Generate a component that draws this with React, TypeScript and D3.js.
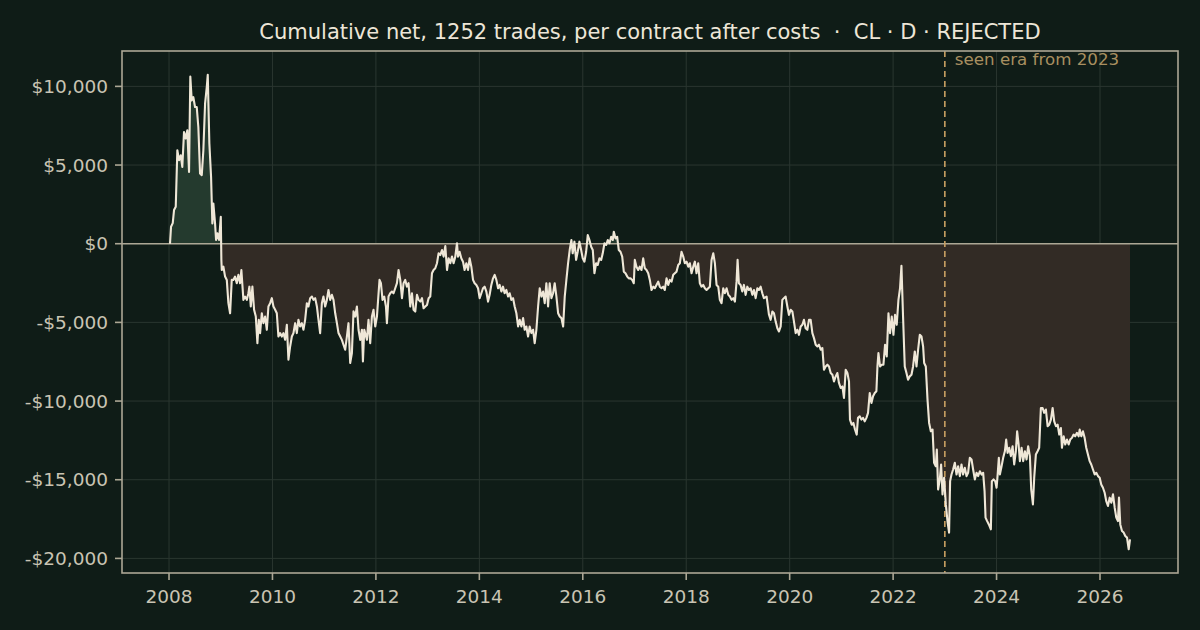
import React from 'react';
import * as d3 from 'd3';

// cumulative net P&L per contract: [decimal year, dollars]
const equityCurve: [number, number][] = [
  [2008.019, 0], [2008.039, 1080], [2008.072, 1310], [2008.097, 2140], [2008.130, 2350],
  [2008.161, 5940], [2008.194, 5310], [2008.226, 5620], [2008.257, 4880], [2008.290, 7100],
  [2008.323, 6680], [2008.354, 7210], [2008.387, 4560], [2008.412, 10630], [2008.439, 9110],
  [2008.470, 9320], [2008.503, 8690], [2008.536, 8690], [2008.567, 7420], [2008.600, 4460],
  [2008.633, 4360], [2008.664, 5940], [2008.697, 8900], [2008.730, 9950], [2008.749, 10740],
  [2008.780, 6370], [2008.813, 4250], [2008.838, 1290], [2008.857, 2560], [2008.890, 1290],
  [2008.910, 235], [2008.935, 660], [2008.968, 235], [2009.001, 1710], [2009.012, -1030],
  [2009.020, -1670], [2009.051, -1460], [2009.084, -2090], [2009.117, -2300], [2009.148, -3780],
  [2009.181, -4420], [2009.213, -2300], [2009.244, -2300], [2009.277, -2090], [2009.310, -2510],
  [2009.341, -1980], [2009.374, -2510], [2009.399, -1670], [2009.438, -3570], [2009.471, -3360],
  [2009.504, -3570], [2009.535, -3150], [2009.554, -2730], [2009.581, -3990], [2009.612, -2730],
  [2009.645, -4200], [2009.678, -4630], [2009.709, -6320], [2009.736, -4840], [2009.761, -5680],
  [2009.794, -4420], [2009.825, -5050], [2009.858, -4630], [2009.891, -5470], [2009.922, -3990],
  [2009.955, -3780], [2009.988, -3460], [2010.019, -3990], [2010.052, -4200], [2010.084, -4420],
  [2010.115, -5900], [2010.148, -5680], [2010.181, -5900], [2010.212, -5680], [2010.245, -6110],
  [2010.278, -5150], [2010.309, -7370], [2010.342, -6530], [2010.375, -5900], [2010.406, -5680],
  [2010.439, -5050], [2010.471, -5680], [2010.502, -4840], [2010.535, -5260], [2010.568, -5050],
  [2010.599, -5470], [2010.632, -4840], [2010.665, -3780], [2010.696, -3990], [2010.729, -3460],
  [2010.762, -3360], [2010.793, -3570], [2010.826, -3460], [2010.859, -3990], [2010.890, -4840],
  [2010.922, -5680], [2010.955, -3780], [2010.986, -3360], [2011.019, -3990], [2011.052, -3570],
  [2011.083, -2940], [2011.116, -3570], [2011.149, -3250], [2011.180, -3570], [2011.213, -4420],
  [2011.246, -5050], [2011.277, -5680], [2011.310, -5900], [2011.342, -6110], [2011.373, -6420],
  [2011.406, -6740], [2011.439, -5900], [2011.470, -5050], [2011.503, -7580], [2011.536, -6950],
  [2011.567, -4300], [2011.600, -4630], [2011.633, -3990], [2011.664, -5470], [2011.697, -6110],
  [2011.730, -5470], [2011.749, -7480], [2011.775, -5470], [2011.826, -6110], [2011.857, -4840],
  [2011.890, -6320], [2011.923, -4630], [2011.954, -4200], [2011.987, -5260], [2012.020, -4630],
  [2012.070, -2300], [2012.097, -2510], [2012.128, -3570], [2012.161, -3360], [2012.194, -3990],
  [2012.213, -5050], [2012.244, -3360], [2012.277, -3150], [2012.310, -3040], [2012.341, -3150],
  [2012.374, -2830], [2012.407, -2510], [2012.438, -1670], [2012.471, -2300], [2012.504, -3460],
  [2012.535, -2510], [2012.567, -2300], [2012.600, -2730], [2012.631, -2510], [2012.664, -3990],
  [2012.697, -3150], [2012.728, -4200], [2012.761, -4310], [2012.794, -3250], [2012.825, -3570],
  [2012.858, -3680], [2012.891, -3460], [2012.922, -4100], [2012.955, -3990], [2012.988, -3890],
  [2013.019, -3460], [2013.051, -3360], [2013.084, -1880], [2013.115, -1670], [2013.148, -1560],
  [2013.181, -1240], [2013.212, -610], [2013.245, -720], [2013.278, -400], [2013.309, -820],
  [2013.342, -150], [2013.375, -1670], [2013.406, -930], [2013.438, -1240], [2013.471, -820],
  [2013.502, -1240], [2013.535, -820], [2013.568, 30], [2013.587, -820], [2013.618, -510],
  [2013.651, -930], [2013.684, -1140], [2013.715, -1670], [2013.748, -1240], [2013.781, -1670],
  [2013.812, -930], [2013.845, -1460], [2013.878, -2300], [2013.909, -2510], [2013.942, -2620],
  [2013.975, -2830], [2014.006, -3460], [2014.039, -3150], [2014.071, -2830], [2014.102, -2730],
  [2014.135, -3040], [2014.168, -3680], [2014.199, -3250], [2014.232, -2620], [2014.265, -2200],
  [2014.296, -1980], [2014.329, -2300], [2014.362, -2830], [2014.393, -2620], [2014.426, -3040],
  [2014.458, -2730], [2014.489, -3150], [2014.522, -2940], [2014.555, -3360], [2014.586, -3150],
  [2014.619, -3570], [2014.652, -3460], [2014.683, -3990], [2014.716, -4420], [2014.749, -5260],
  [2014.780, -4840], [2014.813, -5260], [2014.846, -4730], [2014.877, -5470], [2014.909, -5260],
  [2014.942, -5900], [2014.973, -5260], [2015.006, -5680], [2015.039, -5470], [2015.070, -6320],
  [2015.103, -5470], [2015.136, -3990], [2015.167, -2830], [2015.200, -3360], [2015.233, -3040],
  [2015.264, -3780], [2015.296, -2510], [2015.329, -3990], [2015.360, -2510], [2015.393, -3460],
  [2015.426, -3150], [2015.457, -2510], [2015.490, -3360], [2015.523, -4420], [2015.554, -4630],
  [2015.587, -4730], [2015.620, -5260], [2015.651, -3360], [2015.683, -2300], [2015.716, -1240],
  [2015.747, -400], [2015.780, 235], [2015.805, -610], [2015.838, 130], [2015.871, -1030],
  [2015.902, -510], [2015.935, 130], [2015.968, -400], [2015.999, -930], [2016.032, -1140],
  [2016.065, -510], [2016.096, 550], [2016.129, 235], [2016.162, -190], [2016.193, -400],
  [2016.225, -1880], [2016.258, -1240], [2016.289, -1350], [2016.322, -930], [2016.355, -1030],
  [2016.386, -610], [2016.419, 30], [2016.452, -80], [2016.483, 235], [2016.516, 30],
  [2016.549, 440], [2016.580, 235], [2016.600, 760], [2016.632, 340], [2016.665, 440],
  [2016.696, -400], [2016.729, -510], [2016.762, -820], [2016.793, -1780], [2016.826, -1880],
  [2016.859, -2090], [2016.890, -2200], [2016.922, -2200], [2016.955, -2300], [2016.986, -2510],
  [2017.006, -1030], [2017.038, -1460], [2017.071, -1670], [2017.102, -1460], [2017.135, -1670],
  [2017.168, -930], [2017.199, -1560], [2017.232, -1670], [2017.265, -1880], [2017.296, -2300],
  [2017.329, -2940], [2017.362, -2730], [2017.393, -2830], [2017.425, -2620], [2017.458, -2410],
  [2017.489, -2730], [2017.522, -2830], [2017.555, -2730], [2017.586, -2940], [2017.619, -2200],
  [2017.652, -2620], [2017.683, -2300], [2017.716, -2410], [2017.749, -1980], [2017.780, -1880],
  [2017.812, -1780], [2017.845, -1350], [2017.876, -1240], [2017.909, -510], [2017.942, -820],
  [2017.973, -1240], [2018.006, -1140], [2018.039, -1460], [2018.070, -1240], [2018.103, -1880],
  [2018.136, -1460], [2018.167, -1140], [2018.199, -1880], [2018.232, -1240], [2018.263, -2510],
  [2018.296, -2730], [2018.329, -2620], [2018.360, -2830], [2018.393, -2940], [2018.426, -2830],
  [2018.457, -2730], [2018.490, -1030], [2018.523, -610], [2018.554, -1240], [2018.586, -2620],
  [2018.619, -2730], [2018.650, -3570], [2018.683, -3780], [2018.716, -2830], [2018.747, -3150],
  [2018.780, -2830], [2018.813, -3250], [2018.844, -3360], [2018.877, -3570], [2018.910, -3460],
  [2018.941, -3680], [2018.973, -2410], [2018.993, -1030], [2019.018, -2510], [2019.051, -2620],
  [2019.084, -3040], [2019.115, -2620], [2019.148, -3250], [2019.181, -2730], [2019.212, -2940],
  [2019.245, -2830], [2019.278, -3250], [2019.309, -2940], [2019.342, -3460], [2019.375, -2830],
  [2019.406, -2940], [2019.439, -2730], [2019.471, -3150], [2019.502, -3460], [2019.554, -3360],
  [2019.599, -4500], [2019.632, -4840], [2019.665, -4310], [2019.696, -4420], [2019.729, -4950],
  [2019.762, -5370], [2019.793, -5580], [2019.826, -5260], [2019.858, -3570], [2019.889, -3460],
  [2019.922, -3360], [2019.955, -3990], [2019.986, -4520], [2020.019, -4200], [2020.052, -4310],
  [2020.083, -4950], [2020.116, -5680], [2020.149, -5470], [2020.180, -5790], [2020.213, -5260],
  [2020.245, -5150], [2020.276, -4840], [2020.309, -5370], [2020.342, -5470], [2020.373, -4840],
  [2020.406, -4840], [2020.439, -5680], [2020.470, -6000], [2020.503, -6420], [2020.536, -6530],
  [2020.567, -6420], [2020.600, -6740], [2020.632, -6630], [2020.663, -8010], [2020.696, -7800],
  [2020.729, -7690], [2020.760, -7800], [2020.793, -8220], [2020.826, -8330], [2020.857, -8750],
  [2020.890, -8430], [2020.922, -8220], [2020.953, -8850], [2020.986, -9170], [2021.019, -9070],
  [2021.050, -9800], [2021.083, -8010], [2021.116, -8220], [2021.147, -8750], [2021.166, -11180],
  [2021.199, -11500], [2021.232, -11390], [2021.263, -11810], [2021.296, -12130], [2021.321, -11070],
  [2021.354, -10970], [2021.387, -11180], [2021.418, -11070], [2021.451, -11290], [2021.484, -11070],
  [2021.515, -10750], [2021.548, -9490], [2021.581, -10120], [2021.612, -9700], [2021.645, -9490],
  [2021.677, -9380], [2021.697, -7800], [2021.716, -6950], [2021.747, -7800], [2021.780, -7690],
  [2021.813, -7690], [2021.844, -6420], [2021.877, -7160], [2021.910, -4420], [2021.941, -5680],
  [2021.974, -4630], [2022.006, -5790], [2022.037, -4520], [2022.070, -5150], [2022.103, -3570],
  [2022.134, -2830], [2022.161, -1410], [2022.192, -4630], [2022.225, -7800], [2022.258, -8220],
  [2022.289, -8640], [2022.322, -8430], [2022.355, -8330], [2022.386, -7800], [2022.419, -6850],
  [2022.452, -7800], [2022.483, -6740], [2022.516, -5790], [2022.549, -5900], [2022.580, -6530],
  [2022.600, -7580], [2022.632, -7800], [2022.665, -9910], [2022.696, -11390], [2022.729, -11920],
  [2022.762, -11810], [2022.792, -13920], [2022.825, -14140], [2022.845, -13080], [2022.870, -15620],
  [2022.903, -14980], [2022.928, -14030], [2022.955, -15930], [2022.986, -14870], [2023.019, -16570],
  [2023.051, -17630], [2023.082, -18360], [2023.102, -15090], [2023.129, -14670], [2023.160, -14350],
  [2023.193, -13920], [2023.226, -14670], [2023.257, -14140], [2023.290, -14770], [2023.322, -14030],
  [2023.353, -14670], [2023.386, -14240], [2023.419, -14770], [2023.450, -14560], [2023.483, -13610],
  [2023.516, -13710], [2023.547, -14350], [2023.580, -14980], [2023.613, -14560], [2023.644, -14770],
  [2023.677, -14460], [2023.710, -14670], [2023.741, -14560], [2023.768, -15720], [2023.787, -17410],
  [2023.818, -17630], [2023.851, -17840], [2023.890, -18150], [2023.909, -15090], [2023.942, -14980],
  [2023.973, -15090], [2024.000, -15510], [2024.019, -14770], [2024.044, -13610], [2024.064, -14670],
  [2024.097, -14140], [2024.128, -13610], [2024.161, -13190], [2024.186, -12450], [2024.213, -13290],
  [2024.244, -12970], [2024.277, -13500], [2024.310, -12870], [2024.341, -14030], [2024.373, -13190],
  [2024.398, -11920], [2024.426, -12760], [2024.451, -13820], [2024.484, -12970], [2024.515, -13820],
  [2024.548, -13190], [2024.580, -13710], [2024.611, -12870], [2024.644, -13500], [2024.670, -15620],
  [2024.703, -16570], [2024.728, -14870], [2024.760, -13400], [2024.793, -13190], [2024.824, -12970],
  [2024.857, -10440], [2024.890, -10440], [2024.921, -10750], [2024.954, -10540], [2024.987, -11600],
  [2025.018, -11500], [2025.051, -11180], [2025.084, -10440], [2025.115, -11290], [2025.148, -11600],
  [2025.181, -11500], [2025.212, -12130], [2025.244, -11710], [2025.264, -12970], [2025.297, -12240],
  [2025.328, -12760], [2025.361, -12450], [2025.394, -12760], [2025.424, -12450], [2025.457, -12340],
  [2025.490, -12130], [2025.521, -12240], [2025.554, -12020], [2025.587, -12240], [2025.607, -11810],
  [2025.638, -12240], [2025.670, -11920], [2025.703, -12340], [2025.734, -12970], [2025.767, -13400],
  [2025.800, -13820], [2025.831, -14030], [2025.864, -14350], [2025.897, -14670], [2025.928, -14560],
  [2025.961, -14770], [2025.994, -14870], [2026.024, -15300], [2026.057, -15510], [2026.090, -15830],
  [2026.121, -16360], [2026.154, -16670], [2026.187, -16140], [2026.218, -16460], [2026.251, -15930],
  [2026.284, -16780], [2026.315, -17410], [2026.347, -17630], [2026.367, -16140], [2026.392, -17840],
  [2026.425, -18260], [2026.458, -18360], [2026.489, -18580], [2026.522, -18680], [2026.555, -19420],
  [2026.580, -18790],
];

const xTickYears = [2008, 2010, 2012, 2014, 2016, 2018, 2020, 2022, 2024, 2026];
const yTickValues = [10000, 5000, 0, -5000, -10000, -15000, -20000];
const seenEraStart = 2023;
const chartTitle = 'Cumulative net, 1252 trades, per contract after costs  \u00b7  CL \u00b7 D \u00b7 REJECTED';
const seenEraLabel = 'seen era from 2023';

const W = 1200;
const H = 630;
const margin = { top: 51, right: 22, bottom: 57, left: 122 };
const FONT = '"DejaVu Sans", Verdana, sans-serif';

const C = {
  bg: '#0f1c17',
  frame: '#aca795',
  grid: '#2a3630',
  line: '#efe7d7',
  posFill: '#243a2e',
  negFill: '#322b25',
  tickText: '#c9c4b3',
  title: '#ede6d7',
  era: '#c9a063',
  eraText: '#a88f60',
};

const fmtDollar = (v: number) => (v < 0 ? '-$' : '$') + d3.format(',')(Math.abs(v));

export default function App() {
  const iw = W - margin.left - margin.right;
  const ih = H - margin.top - margin.bottom;

  const xExt = d3.extent(equityCurve, d => d[0]) as [number, number];
  const yExt = d3.extent(equityCurve, d => d[1]) as [number, number];
  const xPad = (xExt[1] - xExt[0]) * 0.05;
  const yPad = (yExt[1] - yExt[0]) * 0.05;

  const x = d3.scaleLinear().domain([xExt[0] - xPad, xExt[1] + xPad]).range([0, iw]);
  const y = d3.scaleLinear().domain([yExt[0] - yPad, yExt[1] + yPad]).range([ih, 0]);

  const line = d3.line<[number, number]>().x(d => x(d[0])).y(d => y(d[1]));
  const area = d3.area<[number, number]>().x(d => x(d[0])).y0(y(0)).y1(d => y(d[1]));
  const areaPath = area(equityCurve) || '';
  const y0 = y(0);

  return (
    <div style={{ position: 'fixed', left: 0, top: 0 }}>
      <svg width={W} height={H} style={{ display: 'block', background: C.bg }} fontFamily={FONT}>
        <defs>
          <clipPath id="above">
            <rect x={0} y={0} width={iw} height={y0} />
          </clipPath>
          <clipPath id="below">
            <rect x={0} y={y0} width={iw} height={ih - y0} />
          </clipPath>
          <clipPath id="plot">
            <rect x={0} y={0} width={iw} height={ih} />
          </clipPath>
        </defs>
        <rect width={W} height={H} fill={C.bg} />
        <text x={margin.left + iw / 2} y={38.5} textAnchor="middle" fill={C.title} fontSize={21}
          style={{ whiteSpace: 'pre' }}>
          {chartTitle}
        </text>
        <g transform={`translate(${margin.left},${margin.top})`}>
          {/* grid */}
          {xTickYears.map(t => (
            <line key={'gx' + t} x1={x(t)} x2={x(t)} y1={0} y2={ih} stroke={C.grid} strokeWidth={1} />
          ))}
          {yTickValues.map(t => (
            <line key={'gy' + t} x1={0} x2={iw} y1={y(t)} y2={y(t)} stroke={C.grid} strokeWidth={1} />
          ))}
          {/* fills */}
          <path d={areaPath} fill={C.posFill} clipPath="url(#above)" />
          <path d={areaPath} fill={C.negFill} clipPath="url(#below)" />
          {/* zero line */}
          <line x1={0} x2={iw} y1={y0} y2={y0} stroke={C.frame} strokeWidth={1.6} />
          {/* seen era marker */}
          <line x1={x(seenEraStart)} x2={x(seenEraStart)} y1={0} y2={ih} stroke={C.era}
            strokeWidth={1.6} strokeDasharray="6,4" />
          <text x={x(seenEraStart) + 10} y={13.5} fill={C.eraText} fontSize={16.7}>{seenEraLabel}</text>
          {/* curve */}
          <path d={line(equityCurve) || ''} fill="none" stroke={C.line} strokeWidth={2.1}
            strokeLinejoin="round" clipPath="url(#plot)" />
          {/* frame */}
          <rect x={0} y={0} width={iw} height={ih} fill="none" stroke={C.frame} strokeWidth={1.6} />
          {/* x axis */}
          {xTickYears.map(t => (
            <g key={'xt' + t} transform={`translate(${x(t)},${ih})`}>
              <line y1={0} y2={7} stroke={C.frame} strokeWidth={1.6} />
              <text y={30} textAnchor="middle" fill={C.tickText} fontSize={18.5}>{t}</text>
            </g>
          ))}
          {/* y axis */}
          {yTickValues.map(t => (
            <g key={'yt' + t} transform={`translate(0,${y(t)})`}>
              <line x1={0} x2={-7} stroke={C.frame} strokeWidth={1.6} />
              <text x={-14} dy="0.35em" textAnchor="end" fill={C.tickText} fontSize={18.5}>{fmtDollar(t)}</text>
            </g>
          ))}
        </g>
      </svg>
    </div>
  );
}
